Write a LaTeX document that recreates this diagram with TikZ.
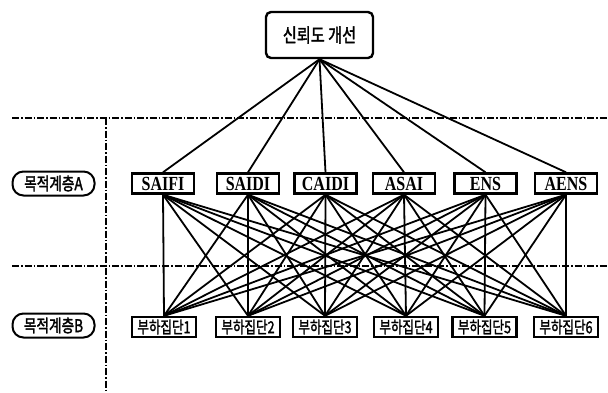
\documentclass[tikz,border=0pt]{standalone}
\usepackage{graphicx}
\usepackage{fontspec}
\setmainfont{Liberation Serif}
\newfontfamily\kr{Noto Sans CJK KR}[FakeBold=2]
\newcommand{\squeeze}[2]{\scalebox{#1}[1]{#2}}
\begin{document}
\begin{tikzpicture}[x=1pt,y=-1pt,
  topbox/.style={draw,line width=2.4pt,rounded corners=5pt,minimum width=107pt,minimum height=46pt,inner sep=0pt,font=\kr\fontsize{19}{19}\selectfont},
  abox/.style={draw,line width=2.4pt,minimum width=62pt,minimum height=20pt,inner sep=0pt,font=\bfseries\fontsize{20}{20}\selectfont},
  bbox/.style={draw,line width=2.4pt,minimum width=64pt,minimum height=20pt,inner sep=0pt,font=\kr\fontsize{16.5}{16.5}\selectfont},
  pill/.style={draw,line width=2pt,rounded corners=11pt,minimum width=82pt,minimum height=24pt,inner sep=0pt,font=\kr\fontsize{17.5}{17.5}\selectfont},
  sep/.style={line width=1.2pt,dash pattern=on 7pt off 2pt on 1.5pt off 2pt},
  link/.style={line width=1.8pt}]
\useasboundingbox (0,0) rectangle (608,392);
% separators
\coordinate (h1l) at (12,118); \coordinate (h1r) at (608,118);
\coordinate (h2l) at (12,266); \coordinate (h2r) at (608,266);
\coordinate (vt) at (106,118); \coordinate (vb) at (106,392);
\draw[sep] (h1l) -- (h1r);
\draw[sep] (h2l) -- (h2r);
\draw[sep] (vt) -- (vb);
% nodes
\node[topbox] (top) at (319.5,35) {\squeeze{0.8}{신뢰도 개선}};
\node[pill] (pa) at (53.5,183.5) {\squeeze{0.78}{목적계층A}};
\node[pill] (pb) at (53.5,325.5) {\squeeze{0.78}{목적계층B}};
\node[abox] (a1) at (163,183.5) {\squeeze{0.8}{SAIFI}};
\node[abox] (a2) at (248,183.5) {\squeeze{0.8}{SAIDI}};
\node[abox] (a3) at (325.5,183.5) {\squeeze{0.8}{CAIDI}};
\node[abox] (a4) at (404,183.5) {\squeeze{0.8}{ASAI}};
\node[abox] (a5) at (485.5,183.5) {\squeeze{0.8}{ENS}};
\node[abox] (a6) at (566,183.5) {\squeeze{0.8}{AENS}};
\node[bbox] (b1) at (164,327) {\squeeze{0.76}{부하집단1}};
\node[bbox] (b2) at (248,327) {\squeeze{0.76}{부하집단2}};
\node[bbox] (b3) at (325,327) {\squeeze{0.76}{부하집단3}};
\node[bbox] (b4) at (406,327) {\squeeze{0.76}{부하집단4}};
\node[bbox] (b5) at (484.5,327) {\squeeze{0.76}{부하집단5}};
\node[bbox] (b6) at (566,327) {\squeeze{0.76}{부하집단6}};
% links
\foreach \i in {1,...,6} {
  \draw[link] (top.south) -- (a\i.north);
  \foreach \j in {1,...,6} {
    \draw[link] (a\i.south) -- (b\j.north);
  }
}
\end{tikzpicture}
\end{document}
